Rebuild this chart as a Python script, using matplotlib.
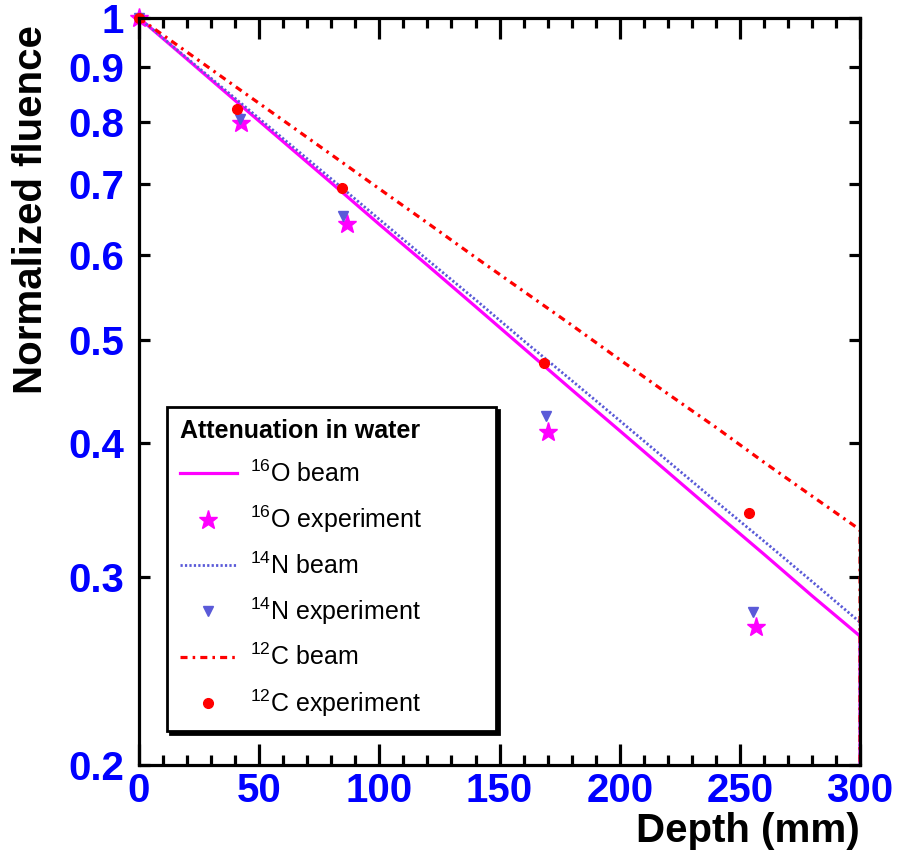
import matplotlib
matplotlib.use("Agg")
import matplotlib.pyplot as plt
import numpy as np

plt.rcParams['font.family'] = ['Liberation Sans', 'DejaVu Sans']
plt.rcParams['mathtext.default'] = 'regular'

# simulated beam attenuation (depth in mm), last bin drops to zero at 300 mm
depth_sim = [0, 20, 40, 60, 80, 100, 120, 140, 160, 180, 200, 220, 240, 260, 280, 300, 300]
o_beam = [1.0, 0.915, 0.837, 0.766, 0.701, 0.641, 0.587, 0.537, 0.491, 0.449, 0.411,
          0.376, 0.344, 0.315, 0.288, 0.264, 0.0]
n_beam = [1.0, 0.917, 0.841, 0.771, 0.707, 0.648, 0.594, 0.545, 0.499, 0.458, 0.420,
          0.385, 0.353, 0.324, 0.297, 0.272, 0.0]
c_beam = [1.0, 0.929, 0.863, 0.802, 0.745, 0.692, 0.643, 0.597, 0.555, 0.516, 0.479,
          0.445, 0.414, 0.384, 0.357, 0.332, 0.0]

# measurements
o_depth = [0, 42.4, 86.6, 170.2, 256.8]
o_exp = [1.0, 0.798, 0.641, 0.410, 0.269]
n_depth = [0, 42.0, 85.0, 169.4, 255.6]
n_exp = [1.0, 0.805, 0.653, 0.424, 0.278]
c_depth = [0, 40.8, 84.5, 168.5, 253.8]
c_exp = [1.0, 0.822, 0.694, 0.476, 0.344]

yticks = [0.2, 0.3, 0.4, 0.5, 0.6, 0.7, 0.8, 0.9, 1.0]
ytick_labels = ['0.2', '0.3', '0.4', '0.5', '0.6', '0.7', '0.8', '0.9', '1']

MAG = '#ff00ff'
BLUE = '#5a5ad8'
RED = '#ff0000'

fig = plt.figure(figsize=(8.97, 8.52), dpi=100)
ax = fig.add_axes([0.155, 0.1021, 0.8038, 0.8768])
ax.set_yscale('log', nonpositive='clip')

ax.plot(depth_sim, o_beam, color=MAG, lw=2.3, label=r'$^{16}$O beam')
ax.plot(o_depth, o_exp, ls='none', marker='*', ms=14, color=MAG, clip_on=False,
        label=r'$^{16}$O experiment')
ax.plot(depth_sim, n_beam, color=BLUE, lw=2.0, ls=(0, (0.8, 0.8)), label=r'$^{14}$N beam')
ax.plot(n_depth, n_exp, ls='none', marker='v', ms=7.5, color=BLUE, clip_on=False,
        label=r'$^{14}$N experiment')
ax.plot(depth_sim, c_beam, color=RED, lw=2.3, ls=(0, (2.2, 1.6, 0.8, 1.6)), label=r'$^{12}$C beam')
ax.plot(c_depth, c_exp, ls='none', marker='o', ms=7, color=RED, clip_on=False,
        label=r'$^{12}$C experiment')

ax.set_xlim(0, 300)
ax.set_ylim(0.2, 1.0)
ax.set_xticks(np.arange(0, 301, 50))
ax.set_xticks(np.arange(0, 301, 10), minor=True)
ax.set_yticks(yticks, ytick_labels)
ax.yaxis.set_minor_locator(matplotlib.ticker.NullLocator())

for s in ax.spines.values():
    s.set_linewidth(2.3)
ax.tick_params(which='both', direction='in', top=True, right=True, width=2.3,
               colors='black', labelcolor='blue', labelsize=29)
ax.tick_params(axis='x', which='major', length=15, pad=5)
ax.tick_params(axis='x', which='minor', length=7.5)
ax.tick_params(axis='y', which='major', length=8, pad=11)
for lab in ax.get_xticklabels() + ax.get_yticklabels():
    lab.set_fontweight('bold')

ax.set_xlabel('Depth (mm)', fontsize=29, fontweight='bold', loc='right')
ax.xaxis.set_label_coords(1.0, -0.063)
ax.set_ylabel('Normalized fluence', fontsize=29, fontweight='bold', loc='top')
ax.yaxis.set_label_coords(-0.124, 0.99)

leg = ax.legend(loc='upper left', bbox_to_anchor=(0.039, 0.0, 0.456, 0.4793), mode='expand',
                fontsize=18,
                title='Attenuation in water', title_fontproperties={'weight': 'bold', 'size': 18},
                alignment='left', frameon=True, fancybox=False, edgecolor='black',
                framealpha=1, shadow={'color': 'black', 'alpha': 1},
                handlelength=2.3, handletextpad=0.5, labelspacing=0.68,
                borderpad=0.5, borderaxespad=0)
leg.get_frame().set_linewidth(2)

fig.savefig('out.png', dpi=100)
